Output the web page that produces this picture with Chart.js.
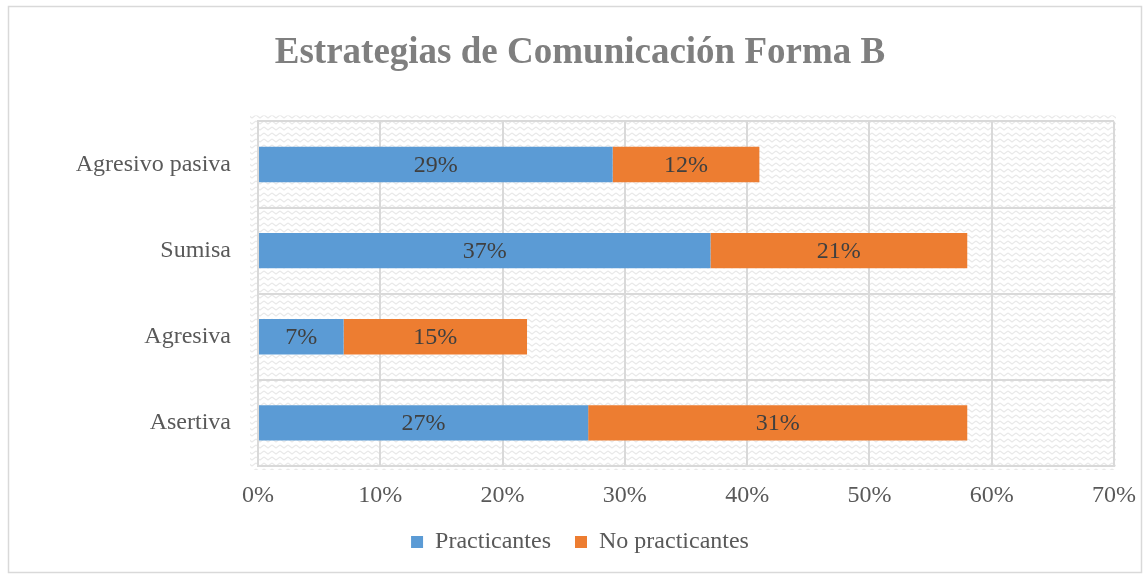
<!DOCTYPE html>
<html><head><meta charset="utf-8">
<script src="https://cdn.jsdelivr.net/npm/chart.js@4/dist/chart.umd.min.js"></script>
<style>html,body{margin:0;padding:0;background:#fff}#wrap{width:1146px;height:577px}</style>
</head><body><div id="wrap"><canvas id="c" width="1146" height="577"></canvas></div>
<script>
const categories = ['Agresivo pasiva', 'Sumisa', 'Agresiva', 'Asertiva'];
const practicantes = [29, 37, 7, 27];
const noPracticantes = [12, 21, 15, 31];
const xTicks = [0, 10, 20, 30, 40, 50, 60, 70];

const FONT = "'Liberation Serif','Times New Roman',serif";

function makePattern(ctx){
  const p = document.createElement('canvas');
  p.width = 8; p.height = 6;
  const g = p.getContext('2d');
  g.fillStyle = '#ffffff'; g.fillRect(0,0,8,6);
  g.strokeStyle = '#e9e9e9'; g.lineWidth = 1.2;
  g.beginPath();
  g.moveTo(0,1); g.lineTo(4,4); g.lineTo(8,1);
  g.stroke();
  return ctx.createPattern(p, 'repeat');
}

const bgPlugin = {
  id: 'bg',
  afterLayout(chart){
    const x = chart.scales.x;
    x.bottom = x.top + 60;
  },
  beforeDraw(chart){
    const ctx = chart.ctx, a = chart.chartArea;
    ctx.save();
    ctx.fillStyle = '#fff'; ctx.fillRect(0,0,chart.width,chart.height);
    ctx.strokeStyle = '#d9d9d9'; ctx.lineWidth = 1.5;
    ctx.strokeRect(8.5, 6.5, 1133, 566);
    ctx.fillStyle = makePattern(ctx);
    ctx.fillRect(a.left-8, a.top-6, a.right-a.left+10, a.bottom-a.top+10);
    ctx.restore();
  }
};

const labelPlugin = {
  id: 'vals',
  afterDatasetsDraw(chart){
    const ctx = chart.ctx;
    ctx.save();
    ctx.font = '24px ' + FONT;
    ctx.fillStyle = '#404040';
    ctx.textAlign = 'center'; ctx.textBaseline = 'middle';
    chart.data.datasets.forEach((ds, di) => {
      chart.getDatasetMeta(di).data.forEach((el, i) => {
        const x = (el.x + el.base) / 2;
        ctx.fillText(ds.data[i] + '%', x, el.y + 1);
      });
    });
    ctx.restore();
  }
};

new Chart(document.getElementById('c'), {
  type: 'bar',
  data: {
    labels: categories,
    datasets: [
      {label: 'Practicantes', data: practicantes, backgroundColor: '#5b9bd5', barPercentage: 0.41, categoryPercentage: 1},
      {label: 'No practicantes', data: noPracticantes, backgroundColor: '#ed7d31', barPercentage: 0.41, categoryPercentage: 1}
    ]
  },
  options: {
    indexAxis: 'y',
    responsive: false,
    animation: false,
    devicePixelRatio: 1,
    layout: {padding: {left: 14, right: 0, top: 9, bottom: 13}},
    plugins: {
      title: {display: true, text: 'Estrategias de Comunicación Forma B', color: '#7f7f7f',
        font: {family: FONT, size: 37, weight: 'bold'}, padding: {top: 22, bottom: 46}},
      legend: {position: 'bottom', labels: {color: '#595959', font: {family: FONT, size: 24},
        boxWidth: 12, boxHeight: 12, padding: 24}},
      tooltip: {enabled: false}
    },
    scales: {
      x: {stacked: true, min: 0, max: 70,
        afterBuildTicks(s){ s.ticks = xTicks.map(v => ({value: v})); },
        ticks: {color: '#595959', font: {family: FONT, size: 24}, padding: 15, callback: v => v + '%'},
        grid: {color: '#d9d9d9', lineWidth: 2, drawTicks: false},
        border: {color: '#d9d9d9', width: 2},
        afterFit(s){ s.height = 40; s.paddingRight = 32; }
      },
      y: {stacked: true,
        ticks: {color: '#595959', font: {family: FONT, size: 24}, padding: 27},
        grid: {color: '#d9d9d9', lineWidth: 2, drawTicks: false, offset: true},
        border: {color: '#d9d9d9', width: 2},
        afterFit(s){ s.width = 244; }
      }
    }
  },
  plugins: [bgPlugin, labelPlugin]
});
</script>
</body></html>
